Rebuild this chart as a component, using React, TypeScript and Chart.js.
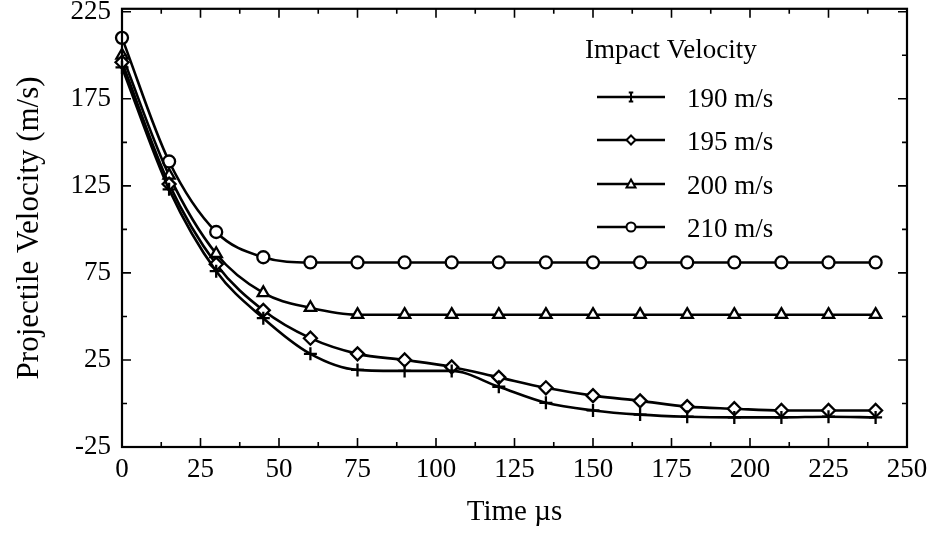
import React, { useEffect, useRef } from 'react';
import { Chart, registerables } from 'chart.js';

Chart.register(...registerables);

const FONT = "'Liberation Serif', 'Times New Roman', serif";

const times = [0, 15, 30, 45, 60, 75, 90, 105, 120, 135, 150, 165, 180, 195, 210, 225, 240];
const v190 = [193, 123, 76, 49, 28.5, 19.3, 18.7, 18.7, 9.6, 0.4, -4, -6.4, -7.6, -8, -8, -7.6, -8];
const v195 = [196, 126, 80, 53.5, 37.5, 28.5, 25, 21, 15, 9, 4.5, 1.5, -1.8, -3, -4, -4, -4];
const v200 = [200, 131, 86, 63.5, 55, 51, 51, 51, 51, 51, 51, 51, 51, 51, 51, 51, 51];
const v210 = [210, 139, 98.5, 84, 81, 81, 81, 81, 81, 81, 81, 81, 81, 81, 81, 81, 81];

const seriesLabels = ['190 m/s', '195 m/s', '200 m/s', '210 m/s'];
const seriesValues = [v190, v195, v200, v210];
const seriesMarkers = ['cross', 'rectRot', 'triangle', 'circle'];
const legendTitle = 'Impact Velocity';

const xTicks = [0, 25, 50, 75, 100, 125, 150, 175, 200, 225, 250];
const xMinorTicks = [12.5, 37.5, 62.5, 87.5, 112.5, 137.5, 162.5, 187.5, 212.5, 237.5];
const yTicks = [-25, 25, 75, 125, 175, 225];
const yMinorTicks = [0, 50, 100, 150, 200];

function drawMarker(ctx: CanvasRenderingContext2D, style: string, x: number, y: number, r: number) {
  ctx.beginPath();
  if (style === 'circle') {
    ctx.arc(x, y, r, 0, Math.PI * 2);
    ctx.fill();
    ctx.stroke();
  } else if (style === 'triangle') {
    ctx.moveTo(x, y - r);
    ctx.lineTo(x + r, y + r * 0.8);
    ctx.lineTo(x - r, y + r * 0.8);
    ctx.closePath();
    ctx.fill();
    ctx.stroke();
  } else if (style === 'rectRot') {
    ctx.moveTo(x, y - r);
    ctx.lineTo(x + r, y);
    ctx.lineTo(x, y + r);
    ctx.lineTo(x - r, y);
    ctx.closePath();
    ctx.fill();
    ctx.stroke();
  } else {
    ctx.moveTo(x, y - r);
    ctx.lineTo(x, y + r);
    ctx.moveTo(x - r, y);
    ctx.lineTo(x + r, y);
    ctx.moveTo(x - r * 0.5, y - r);
    ctx.lineTo(x + r * 0.5, y - r);
    ctx.moveTo(x - r * 0.5, y + r);
    ctx.lineTo(x + r * 0.5, y + r);
    ctx.stroke();
  }
}

const framePlugin = {
  id: 'frameTicks',
  afterDraw(chart: any) {
    const { ctx, chartArea, scales } = chart;
    const { left, right, top, bottom } = chartArea;
    const x = scales.x;
    const y = scales.y;
    ctx.save();
    ctx.strokeStyle = '#000';
    ctx.lineWidth = 2.2;
    ctx.strokeRect(left, top, right - left, bottom - top);
    ctx.lineWidth = 1.6;
    const xt = (v: number, len: number) => {
      const px = x.getPixelForValue(v);
      ctx.beginPath();
      ctx.moveTo(px, bottom);
      ctx.lineTo(px, bottom - len);
      ctx.moveTo(px, top);
      ctx.lineTo(px, top + len);
      ctx.stroke();
    };
    const yt = (v: number, len: number) => {
      const py = y.getPixelForValue(v);
      ctx.beginPath();
      ctx.moveTo(left, py);
      ctx.lineTo(left + len, py);
      ctx.moveTo(right, py);
      ctx.lineTo(right - len, py);
      ctx.stroke();
    };
    xTicks.forEach((v) => xt(v, 9));
    xMinorTicks.forEach((v) => xt(v, 5));
    yTicks.forEach((v) => yt(v, 9));
    yMinorTicks.forEach((v) => yt(v, 5));
    ctx.restore();
  },
};

const legendPlugin = {
  id: 'customLegend',
  afterDraw(chart: any) {
    const { ctx } = chart;
    ctx.save();
    ctx.fillStyle = '#000';
    ctx.font = `27px ${FONT}`;
    ctx.textBaseline = 'alphabetic';
    ctx.textAlign = 'left';
    ctx.fillText(legendTitle, 585, 58);
    const rows = [97, 140, 184, 227];
    seriesLabels.forEach((lab, i) => {
      const yy = rows[i];
      ctx.strokeStyle = '#000';
      ctx.lineWidth = 2.5;
      ctx.beginPath();
      ctx.moveTo(597, yy);
      ctx.lineTo(665, yy);
      ctx.stroke();
      ctx.fillStyle = '#fff';
      ctx.lineWidth = 2;
      drawMarker(ctx, seriesMarkers[i], 631, yy, 4.5);
      ctx.fillStyle = '#000';
      ctx.fillText(lab, 687, yy + 10);
    });
    ctx.restore();
  },
};

export default function App() {
  const ref = useRef<HTMLCanvasElement | null>(null);
  useEffect(() => {
    if (!ref.current) return;
    Chart.defaults.font.family = FONT;
    const datasets = seriesLabels.map((lab, i) => ({
      label: lab,
      data: times.map((t, j) => ({ x: t, y: seriesValues[i][j] })),
      borderColor: '#000',
      backgroundColor: '#fff',
      borderWidth: 2.6,
      pointStyle: seriesMarkers[i],
      pointRadius: seriesMarkers[i] === 'circle' ? 6 : 6.5,
      pointBorderWidth: 2.3,
      pointBorderColor: '#000',
      pointBackgroundColor: '#fff',
      cubicInterpolationMode: 'monotone' as const,
      clip: false as any,
    }));
    const chart = new Chart(ref.current, {
      type: 'line',
      data: { datasets },
      options: {
        animation: false,
        responsive: false,
        maintainAspectRatio: false,
        layout: { padding: { top: 7, right: 25, left: 0, bottom: 0 } },
        plugins: { legend: { display: false }, tooltip: { enabled: false } },
        scales: {
          x: {
            type: 'linear',
            min: 0,
            max: 250,
            afterBuildTicks: (s: any) => {
              s.ticks = xTicks.map((v) => ({ value: v }));
            },
            afterFit: (s: any) => {
              s.height = 89;
              s.paddingLeft = 0;
              s.paddingRight = 0;
            },
            grid: { display: false, drawTicks: false },
            border: { display: false },
            ticks: {
              autoSkip: false,
              maxRotation: 0,
              padding: 7,
              color: '#000',
              font: { family: FONT, size: 27 },
            },
            title: {
              display: true,
              text: 'Time µs',
              color: '#000',
              font: { family: FONT, size: 29 },
              padding: { top: 0, bottom: 6 },
            },
          },
          y: {
            type: 'linear',
            min: -25,
            max: 226.7,
            afterBuildTicks: (s: any) => {
              s.ticks = yTicks.map((v) => ({ value: v }));
            },
            afterFit: (s: any) => {
              s.width = 122;
              s.paddingTop = 0;
              s.paddingBottom = 0;
            },
            grid: { display: false, drawTicks: false },
            border: { display: false },
            ticks: {
              autoSkip: false,
              padding: 11,
              color: '#000',
              font: { family: FONT, size: 27 },
            },
            title: {
              display: true,
              text: 'Projectile Velocity (m/s)',
              color: '#000',
              font: { family: FONT, size: 31 },
              padding: { top: 11, bottom: 0 },
            },
          },
        },
      },
      plugins: [framePlugin, legendPlugin],
    });
    return () => chart.destroy();
  }, []);
  return (
    <div style={{ position: 'absolute', left: 0, top: 0, width: 932, height: 536, background: '#fff' }}>
      <canvas ref={ref} width={932} height={536} style={{ display: 'block' }} />
    </div>
  );
}
